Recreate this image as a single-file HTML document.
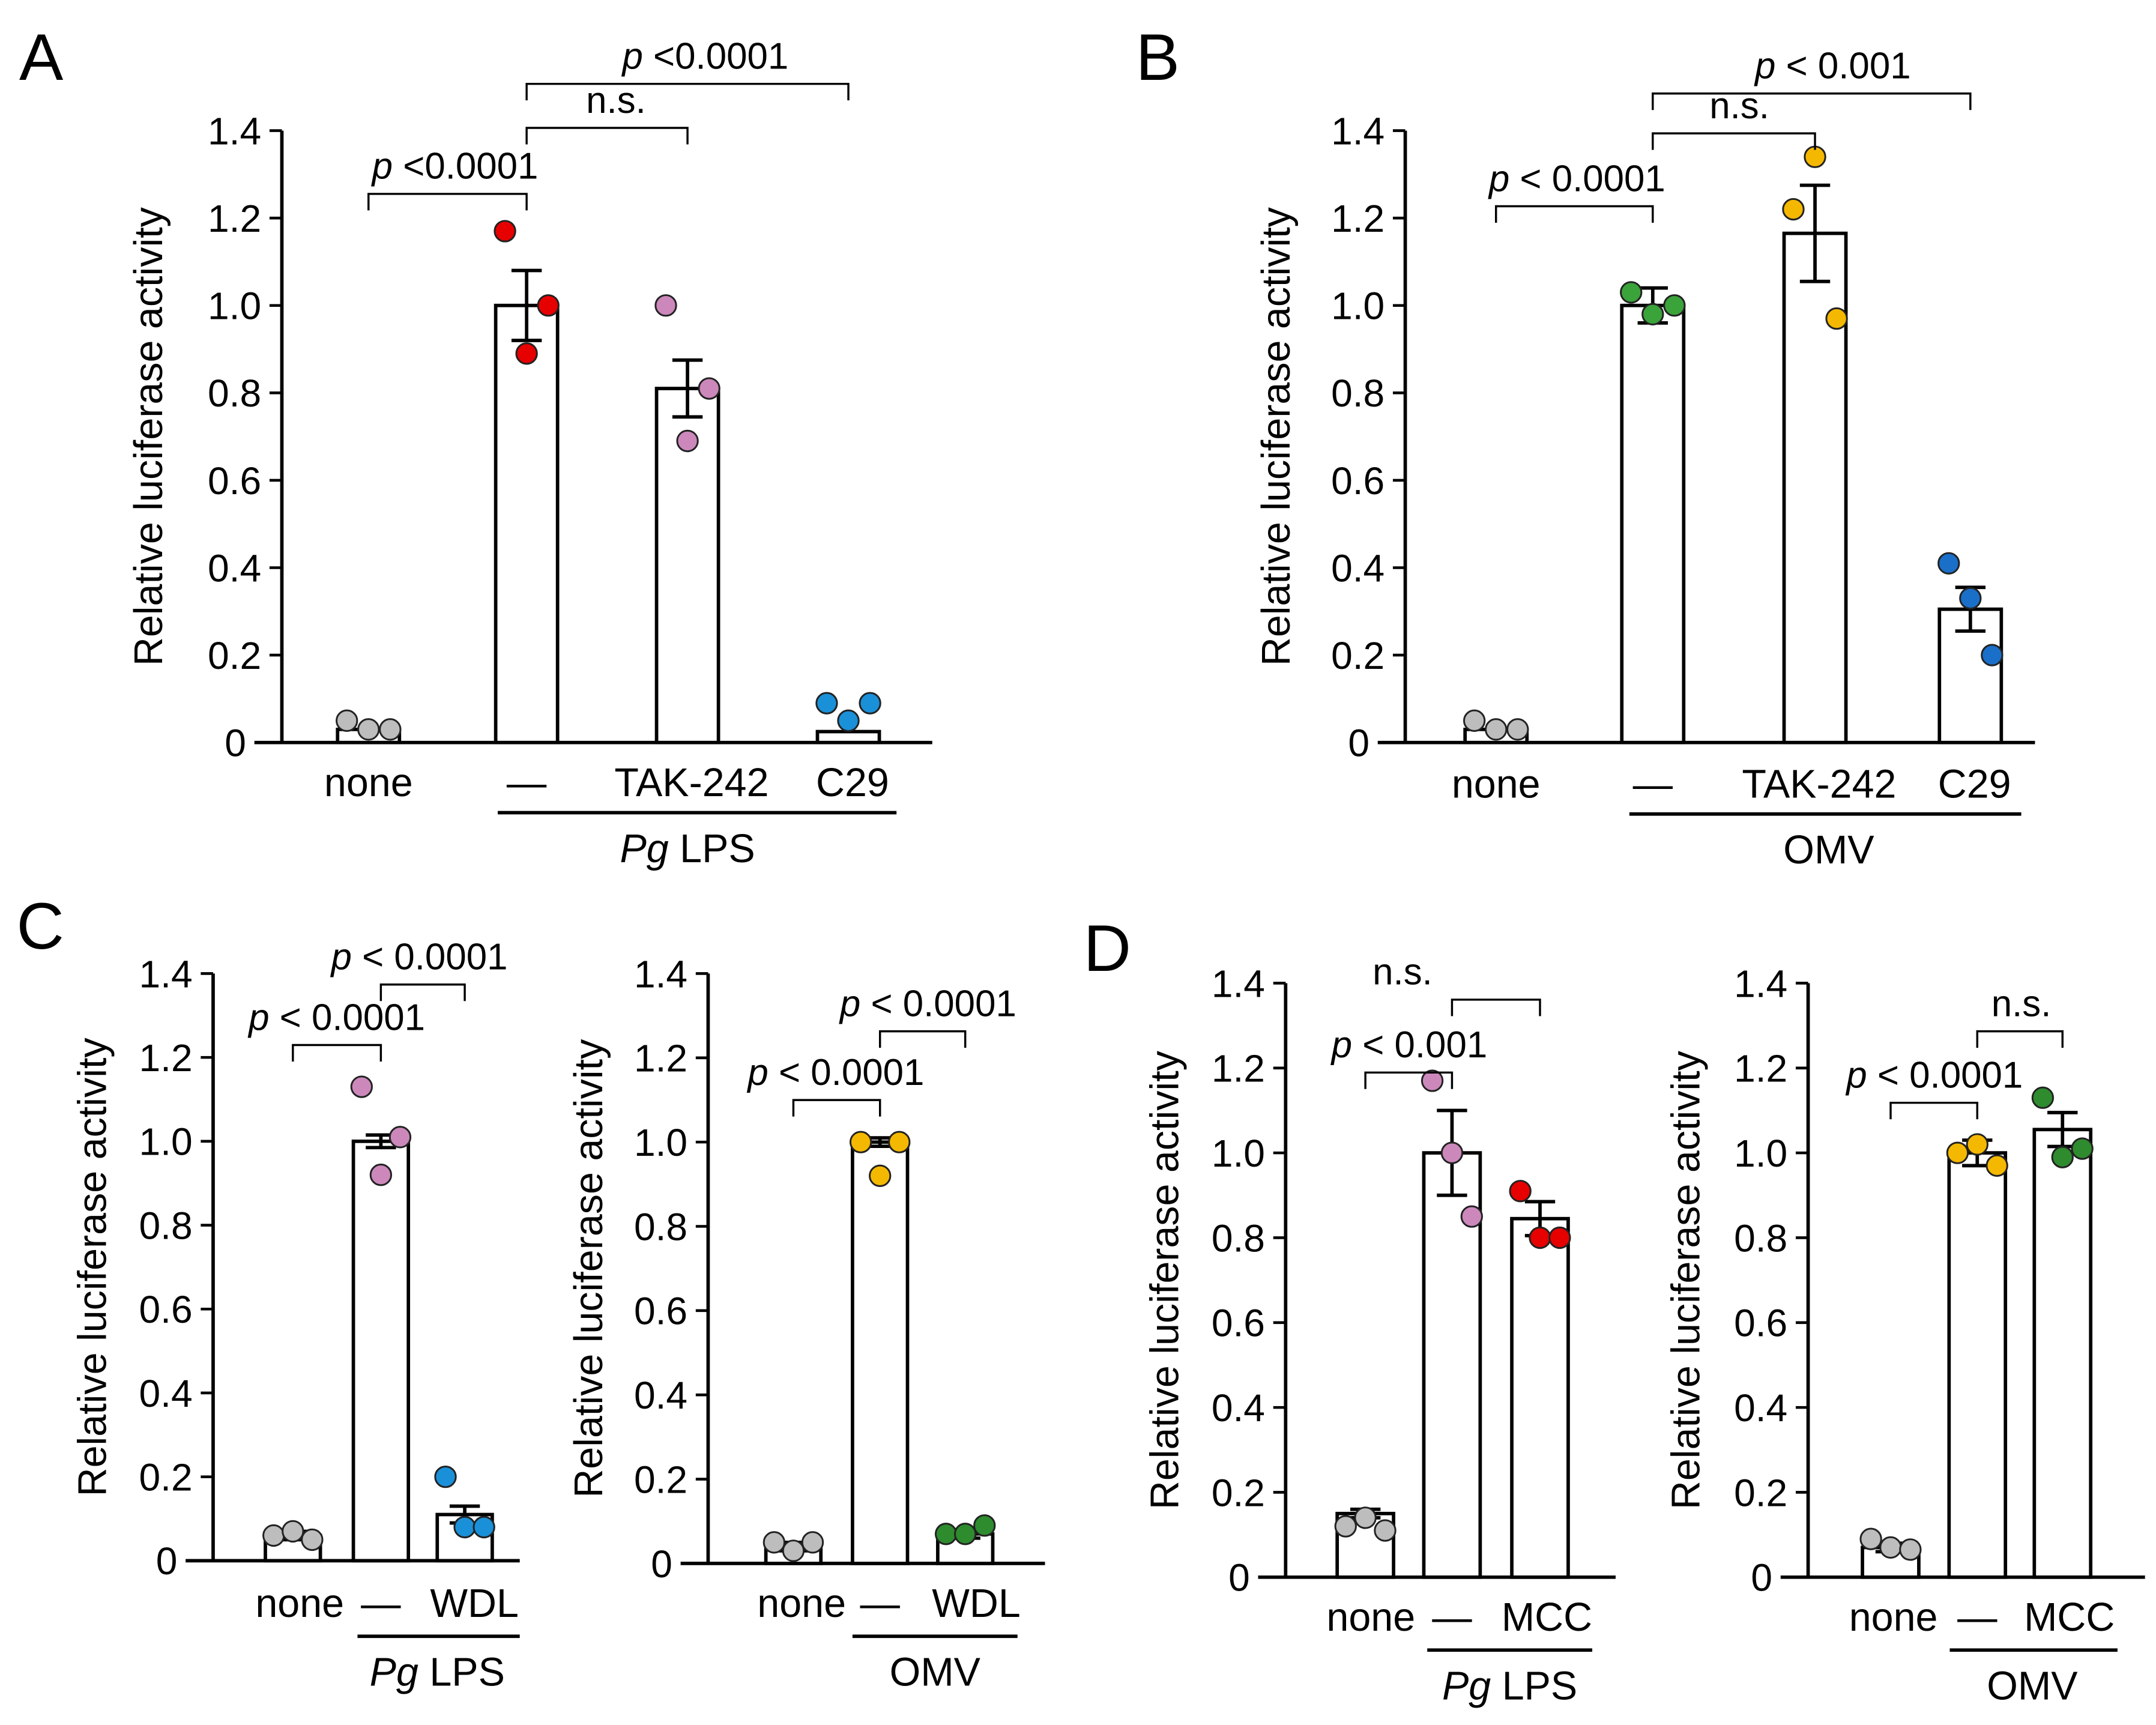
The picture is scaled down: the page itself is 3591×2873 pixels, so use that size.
<!DOCTYPE html>
<html><head><meta charset="utf-8"><style>
html,body{margin:0;padding:0;background:#fff}
svg{display:block}
text{font-family:"Liberation Sans",Arial,sans-serif;fill:#000}
</style></head><body>
<svg id="fig" width="3591" height="2873" viewBox="0 0 1568 1254.5" preserveAspectRatio="none" xmlns="http://www.w3.org/2000/svg">
<text x="14" y="58" font-size="48">A</text>
<text x="826" y="58" font-size="48">B</text>
<text x="12" y="690" font-size="48">C</text>
<text x="788" y="706" font-size="48">D</text>
</svg>
<script>
const NS="http://www.w3.org/2000/svg";
const svg=document.getElementById('fig');
// ---- data ----
const catsA=["none","—","TAK-242","C29"];
const meansA=[0.03,1.0,0.81,0.025];
const errsA=[0,0.08,0.065,0];
const ptsA=[[0.05,0.03,0.03],[1.17,0.89,1.0],[1.0,0.69,0.81],[0.09,0.05,0.09]];
const colsA=["#bdbdbd","#e60000","#cc88bb","#1a90d8"];
const catsB=["none","—","TAK-242","C29"];
const meansB=[0.03,1.0,1.165,0.305];
const errsB=[0,0.04,0.11,0.05];
const ptsB=[[0.05,0.03,0.03],[1.03,0.98,1.0],[1.22,1.34,0.97],[0.41,0.33,0.2]];
const colsB=["#bdbdbd","#3aa33a","#f5b800","#1a6fc8"];
const catsC1=["none","—","WDL"];
const meansC1=[0.06,1.0,0.11];
const errsC1=[0.01,0.015,0.02];
const ptsC1=[[0.06,0.07,0.05],[1.13,0.92,1.01],[0.2,0.08,0.08]];
const colsC1=["#bdbdbd","#cc88bb","#1a90d8"];
const catsC2=["none","—","WDL"];
const meansC2=[0.04,1.0,0.07];
const errsC2=[0.01,0.01,0.01];
const ptsC2=[[0.05,0.03,0.05],[1.0,0.92,1.0],[0.07,0.07,0.09]];
const colsC2=["#bdbdbd","#f5b800","#2e8b2e"];
const catsD1=["none","—","MCC"];
const meansD1=[0.15,1.0,0.845];
const errsD1=[0.01,0.1,0.04];
const ptsD1=[[0.12,0.14,0.11],[1.17,1.0,0.85],[0.91,0.8,0.8]];
const colsD1=["#bdbdbd","#cc88bb","#e60000"];
const catsD2=["none","—","MCC"];
const meansD2=[0.07,1.0,1.055];
const errsD2=[0.01,0.03,0.04];
const ptsD2=[[0.09,0.07,0.065],[1.0,1.02,0.97],[1.13,0.99,1.01]];
const colsD2=["#bdbdbd","#f5b800","#2e8b2e"];
const yTicks=[0,0.2,0.4,0.6,0.8,1.0,1.2,1.4];
const yTickLabels=["0","0.2","0.4","0.6","0.8","1.0","1.2","1.4"];

function el(tag,attrs,name,inter,txt){
  const e=document.createElementNS(NS,tag);
  for(const k in attrs)e.setAttribute(k,attrs[k]);
  
  
  if(txt!==undefined)e.textContent=txt;
  svg.appendChild(e);return e;
}
function panel(p,cats,means,errs,pts,cols){
  const y=v=>p.y0-(p.y0-p.y14)*v/1.4;
  const bw=p.bw;
  el('line',{x1:p.ax,y1:p.y14,x2:p.ax,y2:p.y0,stroke:'#000','stroke-width':2.5},p.id+'-y-axis','false');
  el('line',{x1:p.ax-20,y1:p.y0,x2:p.xEnd,y2:p.y0,stroke:'#000','stroke-width':2.5},p.id+'-x-axis','false');
  yTicks.forEach((t,i)=>{
    el('line',{x1:p.ax-9,y1:y(t),x2:p.ax,y2:y(t),stroke:'#000','stroke-width':2},p.id+'-y-tick','false');
    el('text',{x:p.ax-(t===0?26:15),y:y(t)+10,'font-size':28,'text-anchor':'end'},p.id+'-y-tick-label','false',yTickLabels[i]);
  });
  const ym=(p.y0+p.y14)/2;
  el('text',{x:p.lx,y:ym,'font-size':29,'text-anchor':'middle',transform:`rotate(-90 ${p.lx} ${ym})`},p.id+'-y-axis-title','false','Relative luciferase activity');
  cats.forEach((c,i)=>{
    const cx=p.xs[i];
    el('rect',{x:cx-bw/2,y:y(means[i]),width:bw,height:p.y0-y(means[i]),fill:'#fff',stroke:'#000','stroke-width':2.5},p.id+'-bar-'+i,'false');
    if(errs[i]>0){
      const a=y(means[i]+errs[i]),b=y(means[i]-errs[i]);
      el('line',{x1:cx,y1:a,x2:cx,y2:b,stroke:'#000','stroke-width':2.5},p.id+'-error-bar','false');
      el('line',{x1:cx-11,y1:a,x2:cx+11,y2:a,stroke:'#000','stroke-width':2.5},p.id+'-error-cap','false');
      el('line',{x1:cx-11,y1:b,x2:cx+11,y2:b,stroke:'#000','stroke-width':2.5},p.id+'-error-cap','false');
    }
    const offs=[-bw*0.35,0,bw*0.35];
    pts[i].forEach((v,j)=>{
      el('circle',{cx:cx+offs[j],cy:y(v),r:7.5,fill:cols[i],stroke:'#222','stroke-width':1.3},p.id+'-point','false');
    });
    el('text',{x:cx+(p.lo[i]||0),y:p.ly,'font-size':29,'text-anchor':'middle'},p.id+'-x-label','false',c);
  });
  el('line',{x1:p.ul[0],y1:p.ul[2],x2:p.ul[1],y2:p.ul[2],stroke:'#000','stroke-width':2.5},p.id+'-group-line','false');
  const g=el('text',{x:p.gx,y:p.ul[2]+36,'font-size':29,'text-anchor':'middle'},p.id+'-group-label','false');
  if(p.pg){const t=document.createElementNS(NS,'tspan');t.setAttribute('font-style','italic');t.textContent='Pg';g.appendChild(t);g.appendChild(document.createTextNode(' LPS'));}
  else g.textContent=p.group;
  p.br.forEach(b=>{
    const x1=p.xs[b[0]],x2=p.xs[b[1]],by=b[2];
    el('path',{d:`M${x1} ${by+12}V${by}H${x2}V${by+12}`,fill:'none',stroke:'#000','stroke-width':1.5},p.id+'-sig-bracket','false');
    const t=el('text',{x:b[4],y:by-11,'font-size':27,'text-anchor':'middle'},p.id+'-sig-label','false');
    if(b[3]==='n.s.')t.textContent='n.s.';
    else{const s=document.createElementNS(NS,'tspan');s.setAttribute('font-style','italic');s.textContent='p';t.appendChild(s);t.appendChild(document.createTextNode(' '+b[3]));}
  });
}
panel({id:'a',ax:205,y0:540,y14:95,xEnd:678,bw:45,xs:[268,383,500,617],lx:118,ly:579,lo:[0,0,3,3],ul:[362,652,591],gx:500,pg:true,
  br:[[0,1,141,'<0.0001',331],[1,2,93,'n.s.',448],[1,3,61,'<0.0001',513]]},catsA,meansA,errsA,ptsA,colsA);
panel({id:'b',ax:1022,y0:540,y14:95,xEnd:1480,bw:45,xs:[1088,1202,1320,1433],lx:938,ly:580,lo:[0,0,3,3],ul:[1185,1470,592],gx:1330,group:'OMV',
  br:[[0,1,150,'< 0.0001',1147],[1,2,97,'n.s.',1265],[1,3,68,'< 0.001',1333]]},catsB,meansB,errsB,ptsB,colsB);
panel({id:'c1',ax:155,y0:1135,y14:708,xEnd:378,bw:40,xs:[213,277,338],lx:77,ly:1176,lo:[5,0,7],ul:[260,378,1190],gx:318,pg:true,
  br:[[0,1,760,'< 0.0001',245],[1,2,716,'< 0.0001',305]]},catsC1,meansC1,errsC1,ptsC1,colsC1);
panel({id:'c2',ax:515,y0:1137,y14:708,xEnd:760,bw:40,xs:[577,640,702],lx:438,ly:1176,lo:[6,0,8],ul:[620,740,1190],gx:680,group:'OMV',
  br:[[0,1,800,'< 0.0001',608],[1,2,750,'< 0.0001',675]]},catsC2,meansC2,errsC2,ptsC2,colsC2);
panel({id:'d1',ax:935,y0:1147,y14:715,xEnd:1175,bw:41,xs:[993,1056,1120],lx:857,ly:1186,lo:[4,0,5],ul:[1038,1158,1200],gx:1098,pg:true,
  br:[[0,1,780,'< 0.001',1025],[1,2,727,'n.s.',1020]]},catsD1,meansD1,errsD1,ptsD1,colsD1);
panel({id:'d2',ax:1315,y0:1147,y14:715,xEnd:1560,bw:41,xs:[1375,1438,1500],lx:1236,ly:1186,lo:[2,0,5],ul:[1418,1540,1200],gx:1478,group:'OMV',
  br:[[0,1,802,'< 0.0001',1407],[1,2,750,'n.s.',1470]]},catsD2,meansD2,errsD2,ptsD2,colsD2);
</script>
</body></html>
